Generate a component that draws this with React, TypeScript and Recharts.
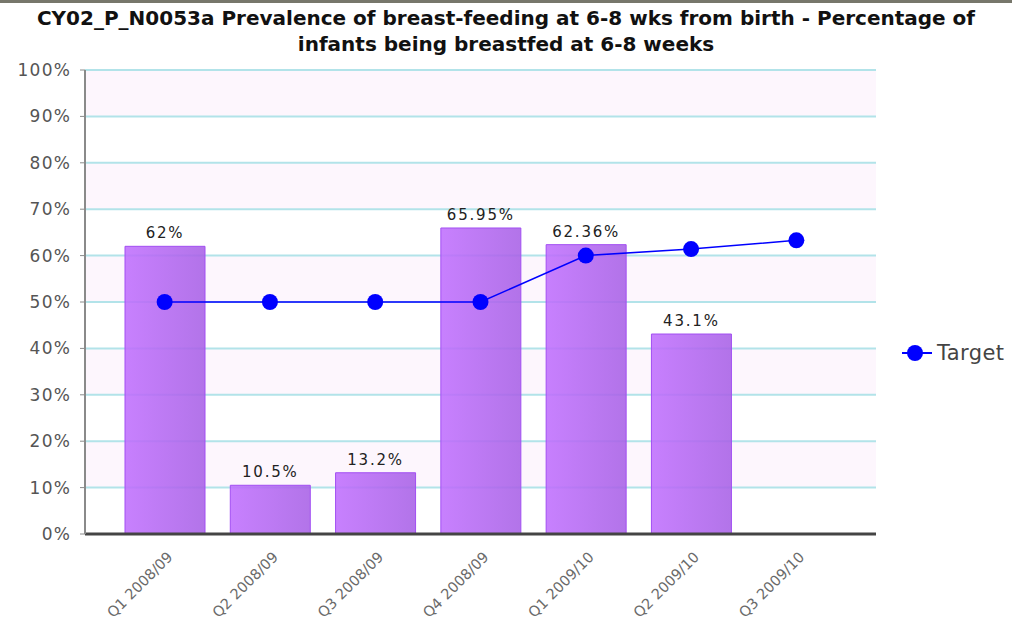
import {
  ComposedChart, Bar, Line, XAxis, YAxis, CartesianGrid, LabelList,
} from 'recharts';

const quarters = [
  'Q1 2008/09', 'Q2 2008/09', 'Q3 2008/09', 'Q4 2008/09',
  'Q1 2009/10', 'Q2 2009/10', 'Q3 2009/10',
];
const actual = [62, 10.5, 13.2, 65.95, 62.36, 43.1, null];
const target = [50, 50, 50, 50, 60, 61.4, 63.3];
const yTicks = [0, 10, 20, 30, 40, 50, 60, 70, 80, 90, 100];

const data = quarters.map((q, i) => ({ q, actual: actual[i], target: target[i] }));

function XTick({ x, y, payload }: any) {
  return (
    <text
      x={x + 9}
      y={y + 16}
      transform={`rotate(-45, ${x + 9}, ${y + 16})`}
      textAnchor="end"
      fill="#6a6a6a"
      fontSize={14.5}
      fontFamily="DejaVu Sans"
    >
      {payload.value}
    </text>
  );
}

export default function App() {
  return (
    <div style={{ position: 'absolute', left: 0, top: 0, width: 1012, height: 627, background: '#fff' }}>
      <div style={{ position: 'absolute', left: 0, top: 0, width: 1012, height: 3, background: '#77776b' }} />
      <div
        style={{
          position: 'absolute', left: 0, top: 5, width: 1012, textAlign: 'center',
          fontFamily: 'DejaVu Sans', fontWeight: 'bold', fontSize: 20,
          lineHeight: '26px', color: '#111',
        }}
      >
        CY02_P_N0053a Prevalence of breast-feeding at 6-8 wks from birth - Percentage of
        <br />
        infants being breastfed at 6-8 weeks
      </div>
      <ComposedChart
        width={1012}
        height={627}
        data={data}
        margin={{ top: 70, right: 136, left: 0, bottom: 0 }}
      >
        <defs>
          <linearGradient id="barFill" x1="0" y1="0" x2="1" y2="0">
            <stop offset="0%" stopColor="#c06ffe" stopOpacity={0.88} />
            <stop offset="100%" stopColor="#a861e6" stopOpacity={0.88} />
          </linearGradient>
        </defs>
        <CartesianGrid
          vertical={false}
          stroke="#b2e3e9"
          strokeWidth={2}
          fill="#fff"
          horizontalFill={['#fdf6fd', '#ffffff']}
          fillOpacity={1}
        />
        <XAxis
          dataKey="q"
          padding={{ left: 27, right: 27 }}
          axisLine={{ stroke: '#444', strokeWidth: 3 }}
          tickLine={false}
          height={93}
          interval={0}
          tick={<XTick />}
        />
        <YAxis
          domain={[0, 100]}
          ticks={yTicks}
          width={85}
          tickFormatter={(v) => `${v}%`}
          axisLine={{ stroke: '#8a8a8a', strokeWidth: 2 }}
          tickLine={{ stroke: '#8a8a8a' }}
          tickSize={5}
          tickMargin={9}
          tick={{ fill: '#555', fontSize: 17, fontFamily: 'DejaVu Sans', letterSpacing: 1.2 }}
        />
        <Bar
          dataKey="actual"
          barSize={80}
          fill="url(#barFill)"
          stroke="#a24ef2"
          strokeWidth={1}
          isAnimationActive={false}
        >
          <LabelList
            dataKey="actual"
            position="top"
            offset={8}
            formatter={(v: any) => (v == null ? '' : `${v}%`)}
            fill="#222"
            fontSize={15}
            fontFamily="DejaVu Sans"
            letterSpacing={1.8}
          />
        </Bar>
        <Line
          dataKey="target"
          stroke="#0000ff"
          strokeWidth={1.5}
          dot={{ r: 8, fill: '#0000ff', stroke: 'none' }}
          activeDot={false}
          isAnimationActive={false}
        />
      </ComposedChart>
      <svg width={120} height={30} style={{ position: 'absolute', left: 900, top: 338 }}>
        <line x1={2} y1={15} x2={32} y2={15} stroke="#0000ff" strokeWidth={2} />
        <circle cx={15} cy={15} r={8} fill="#0000ff" />
        <text x={37} y={22} fontSize={21} fill="#444" fontFamily="DejaVu Sans" letterSpacing={0.4}>Target</text>
      </svg>
    </div>
  );
}
